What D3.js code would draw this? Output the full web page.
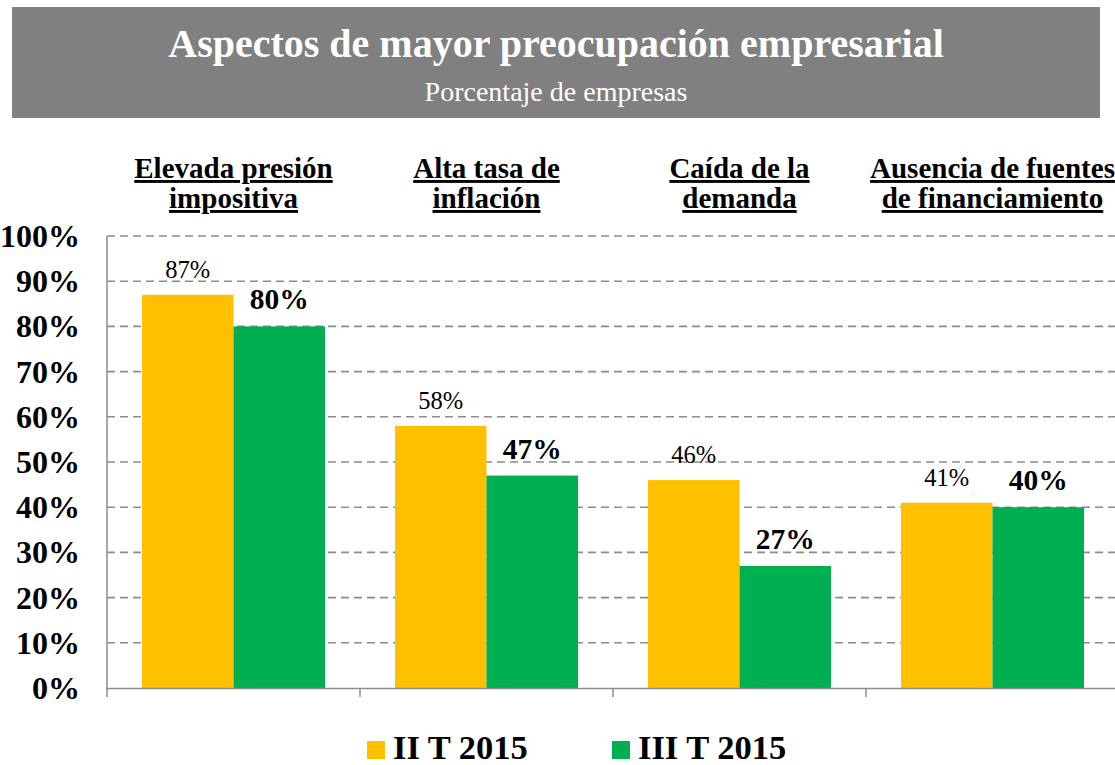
<!DOCTYPE html>
<html><head><meta charset="utf-8">
<script src="https://cdn.jsdelivr.net/npm/d3@7"></script>
<style>body{margin:0;background:#fff}svg{display:block}
text{font-family:"Liberation Serif","Times New Roman","DejaVu Serif",serif}</style>
</head><body>
<svg id="c" width="1115" height="765"></svg>
<script>
const categories = [["Elevada presión","impositiva"],["Alta tasa de","inflación"],["Caída de la","demanda"],["Ausencia de fuentes","de financiamiento"]];
const seriesNames = ["II T 2015","III T 2015"];
const valuesQ2 = [87,58,46,41];
const valuesQ3 = [80,47,27,40];
const yTicks = [0,10,20,30,40,50,60,70,80,90,100];
const colors = ["#FFC000","#00B050"];

const svg = d3.select("#c");
// banner
svg.append("rect").attr("x",12).attr("y",7).attr("width",1088).attr("height",111).attr("fill","#808080");
svg.append("text").attr("x",556).attr("y",57).attr("text-anchor","middle").attr("fill","#fff")
  .style("font-weight","bold").style("font-size","40px").text("Aspectos de mayor preocupación empresarial");
svg.append("text").attr("x",556).attr("y",101).attr("text-anchor","middle").attr("fill","#fff")
  .style("font-size","28px").text("Porcentaje de empresas");

const idx = categories.map((d,i)=>i);
const x0 = d3.scaleBand().domain(idx).range([107,1119]).padding(0);
const x1 = d3.scaleBand().domain([0,1]).range([35,218]).padding(0);
const y = d3.scaleLinear().domain([0,100]).range([688,236]);

// grid
svg.append("g").selectAll("line").data(yTicks.filter(d=>d>0)).join("line")
  .attr("x1",107).attr("x2",1119).attr("y1",d=>y(d)).attr("y2",d=>y(d))
  .attr("stroke","#8c8c8c").attr("stroke-width",1.6).attr("stroke-dasharray","8,5");

// y labels
svg.append("g").selectAll("text").data(yTicks).join("text")
  .attr("x",80).attr("y",d=>y(d)+11).attr("text-anchor","end")
  .style("font-weight","bold").style("font-size","32px").text(d=>d+"%");

// bars
const data = idx.map(i=>[valuesQ2[i],valuesQ3[i]]);
const g = svg.append("g");
idx.forEach(i=>{
  data[i].forEach((v,s)=>{
    g.append("rect").attr("x",x0(i)+x1(s)).attr("y",y(v)).attr("width",x1.bandwidth()).attr("height",y(0)-y(v)).attr("fill",colors[s]);
    g.append("text").attr("x",x0(i)+x1(s)+x1.bandwidth()/2).attr("y",y(v)-17).attr("text-anchor","middle")
      .style("font-weight",s?"bold":"normal").style("font-size",s?"29.5px":"24.5px").text(v+"%");
  });
});

// axes lines
svg.append("line").attr("x1",107).attr("x2",107).attr("y1",236).attr("y2",689).attr("stroke","#8c8c8c").attr("stroke-width",1.5);
svg.append("line").attr("x1",106).attr("x2",1119).attr("y1",688.5).attr("y2",688.5).attr("stroke","#8c8c8c").attr("stroke-width",1.5);
svg.append("g").selectAll("line").data(idx).join("line")
  .attr("x1",d=>x0(d)).attr("x2",d=>x0(d)).attr("y1",688).attr("y2",697).attr("stroke","#8c8c8c").attr("stroke-width",1.5);

// category headers
idx.forEach(i=>{
  categories[i].forEach((t,l)=>{
    svg.append("text").attr("x",x0(i)+x0.bandwidth()/2).attr("y",178+l*30).attr("text-anchor","middle")
      .style("font-weight","bold").style("font-size","29px").style("text-decoration","underline").text(t);
  });
});

// legend
const lx = [367,612];
seriesNames.forEach((n,s)=>{
  svg.append("rect").attr("x",lx[s]).attr("y",741).attr("width",18).attr("height",18).attr("fill",colors[s]);
  svg.append("text").attr("x",lx[s]+26).attr("y",759).style("font-weight","bold").style("font-size","34.5px").text(n);
});
</script>
</body></html>
